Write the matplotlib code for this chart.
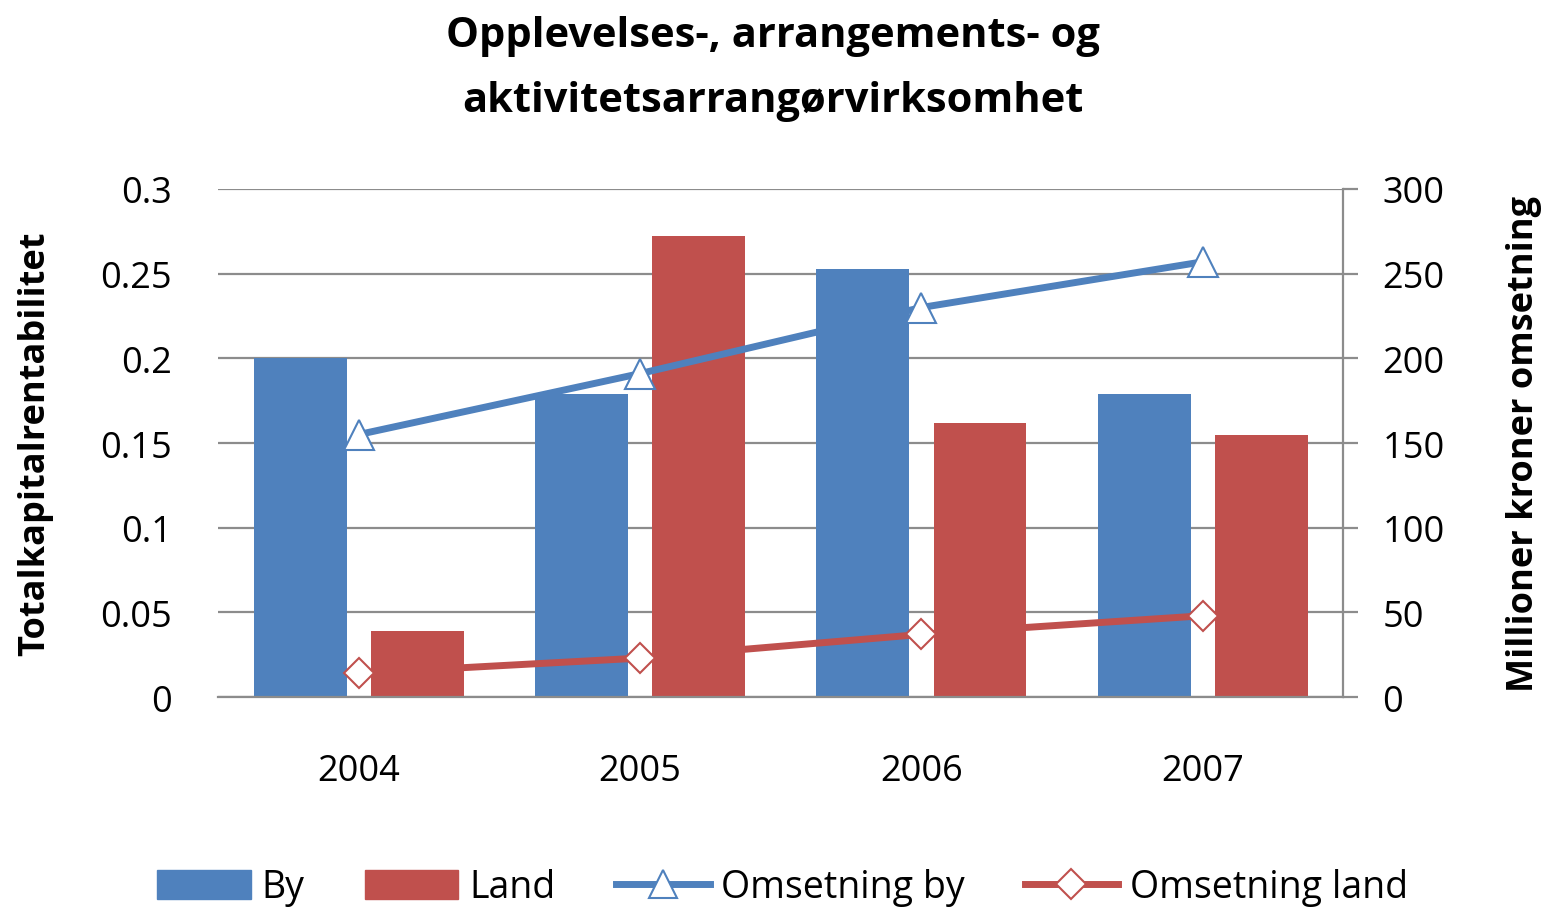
import matplotlib
matplotlib.use("Agg")
import matplotlib.pyplot as plt
import numpy as np
from matplotlib.lines import Line2D
from matplotlib.patches import Patch

years = ["2004", "2005", "2006", "2007"]
by_rent = [0.20, 0.179, 0.253, 0.179]
land_rent = [0.039, 0.272, 0.162, 0.155]
oms_by = [155, 191, 230, 257]
oms_land = [14, 23, 37, 48]

blue = "#4F81BD"
red = "#C0504D"
grid = "#8C8C8C"
font = ["Open Sans", "DejaVu Sans"]
plt.rcParams['font.family'] = font

fig = plt.figure(figsize=(15.46, 9.12), dpi=100)
ax = fig.add_axes([0.141, 0.2346, 0.728, 0.5571])
x = np.arange(len(years))
w = 0.33
off = 0.208
ax.bar(x - off, by_rent, w, color=blue, zorder=2)
ax.bar(x + off, land_rent, w, color=red, zorder=2)
ax.set_xlim(-0.5, 3.5)
ax.set_ylim(0, 0.3)
ax.set_yticks([0, 0.05, 0.1, 0.15, 0.2, 0.25, 0.3])
ax.set_yticklabels(["0", "0.05", "0.1", "0.15", "0.2", "0.25", "0.3"])
ax.yaxis.grid(True, color=grid, lw=1.6, zorder=0)
ax.set_axisbelow(True)
for s in ["top", "left", "right"]:
    ax.spines[s].set_visible(False)
ax.spines["bottom"].set_color(grid)
ax.spines["bottom"].set_linewidth(1.6)
ax.set_xticks(x)
ax.set_xticklabels(years)
ax.tick_params(axis="x", length=0, pad=40, labelsize=26)
ax.tick_params(axis="y", length=0, pad=33, labelsize=26)
ax.set_ylabel("Totalkapitalrentabilitet", fontsize=26, fontweight="bold", labelpad=34)

ax2 = ax.twinx()
ax2.set_ylim(0, 300)
ax2.set_yticks([0, 50, 100, 150, 200, 250, 300])
ax2.plot(x, oms_by, color=blue, lw=5, marker="^", ms=21, mfc="white", mec=blue, mew=1.5, zorder=5)
ax2.plot(x, oms_land, color=red, lw=5, marker="D", ms=15, mfc="white", mec=red, mew=1.5, zorder=5)
for s in ["top", "left", "bottom"]:
    ax2.spines[s].set_visible(False)
ax2.spines["right"].set_color(grid)
ax2.spines["right"].set_linewidth(1.6)
ax2.tick_params(axis="y", length=11, width=1.6, color=grid, pad=17, labelsize=26, direction="out")
ax2.set_ylabel("Millioner kroner omsetning", fontsize=26, fontweight="bold", labelpad=44)

fig.text(0.5, 0.960, "Opplevelses-, arrangements- og", ha="center", va="center", fontsize=30, fontweight="bold")
fig.text(0.5, 0.889, "aktivitetsarrangørvirksomhet", ha="center", va="center", fontsize=30, fontweight="bold")

handles = [Patch(color=blue, label="By"), Patch(color=red, label="Land"),
           Line2D([], [], color=blue, lw=5, marker="^", ms=20, mfc="white", mec=blue, mew=1.5, label="Omsetning by"),
           Line2D([], [], color=red, lw=5, marker="D", ms=15, mfc="white", mec=red, mew=1.5, label="Omsetning land")]
fig.legend(handles=handles, loc="center", bbox_to_anchor=(0.506, 0.026), ncol=4, frameon=False,
           fontsize=27, handlelength=2.5, handleheight=0.8, columnspacing=1.6, handletextpad=0.3)

fig.savefig("out.png", dpi=100)
